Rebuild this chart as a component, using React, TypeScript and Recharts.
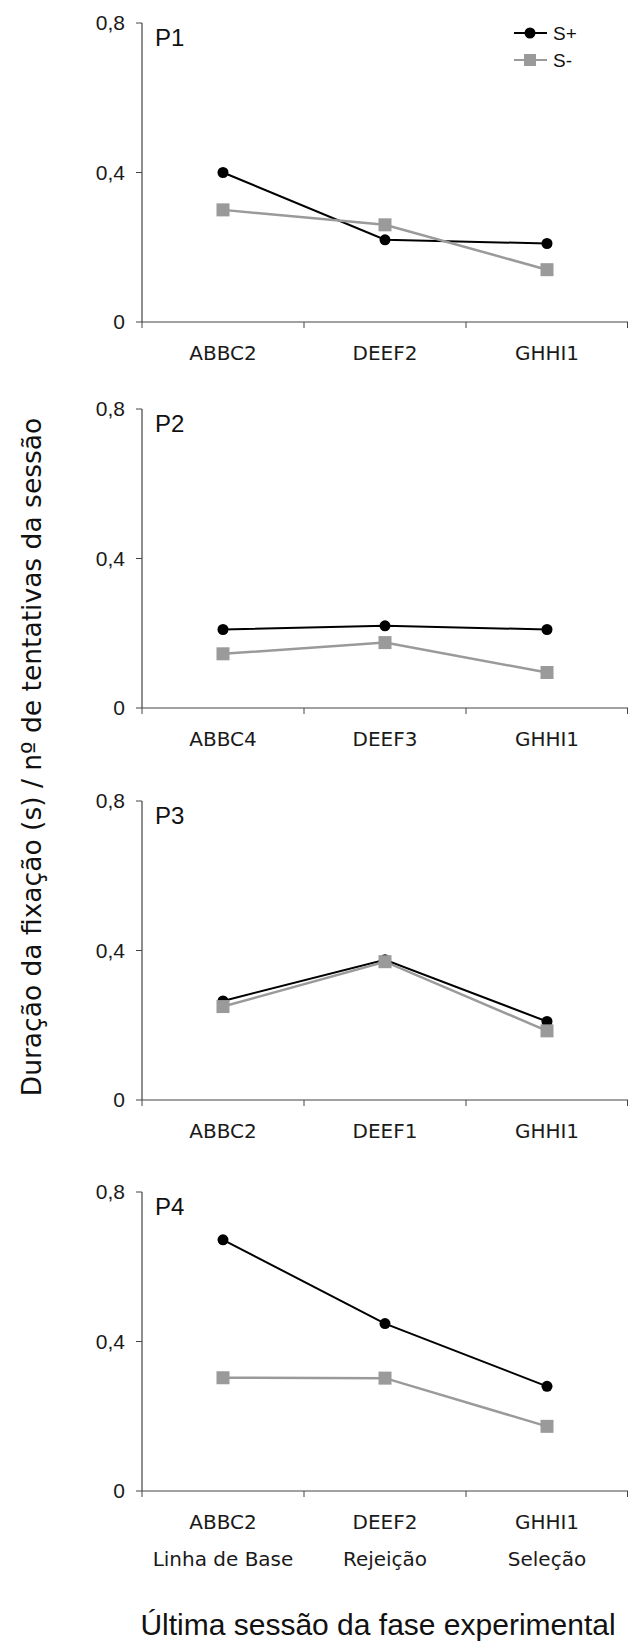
import React from 'react';
import { LineChart, Line, XAxis, YAxis, Legend } from 'recharts';

// ---------- data ----------
const p1Categories = ['ABBC2', 'DEEF2', 'GHHI1'];
const p1SPlus = [0.40, 0.22, 0.21];
const p1SMinus = [0.30, 0.26, 0.14];

const p2Categories = ['ABBC4', 'DEEF3', 'GHHI1'];
const p2SPlus = [0.21, 0.22, 0.21];
const p2SMinus = [0.145, 0.175, 0.095];

const p3Categories = ['ABBC2', 'DEEF1', 'GHHI1'];
const p3SPlus = [0.265, 0.375, 0.21];
const p3SMinus = [0.25, 0.37, 0.185];

const p4Categories = ['ABBC2', 'DEEF2', 'GHHI1'];
const p4SPlus = [0.672, 0.448, 0.28];
const p4SMinus = [0.303, 0.302, 0.173];

const phaseLabels = ['Linha de Base', 'Rejeição', 'Seleção'];
const panelNames = ['P1', 'P2', 'P3', 'P4'];
const yTicks = [0, 0.4, 0.8];
const seriesNames = ['S+', 'S-'];
const yTitle = 'Duração da fixação (s)  /  nº de tentativas da sessão';
const xTitle = 'Última sessão da fase experimental';

// ---------- styles ----------
const BLACK = '#000000';
const GREY = '#9a9a9a';
const AXIS = '#444444';
const ARIAL = '"Liberation Sans", Arial, Helvetica, sans-serif';
const VERDANA = '"DejaVu Sans", Verdana, sans-serif';

const build = (cats: string[], sp: number[], sm: number[]) =>
  cats.map((c, i) => ({ cat: c, sp: sp[i], sm: sm[i] }));

const panels = [
  build(p1Categories, p1SPlus, p1SMinus),
  build(p2Categories, p2SPlus, p2SMinus),
  build(p3Categories, p3SPlus, p3SMinus),
  build(p4Categories, p4SPlus, p4SMinus),
];

const PLOT_TOPS = [22.7, 409.3, 800.7, 1191.7];
const TOP_MARGIN = 20;
const PLOT_H = 299;

const makeTick = (phases?: string[]) => (props: any) => {
  const { x, y, payload, index, width, visibleTicksCount } = props;
  const off = payload && payload.offset ? payload.offset : width / (visibleTicksCount || 3) / 2;
  const last = index === (visibleTicksCount || 3) - 1;
  return (
    <g>
      <line x1={x - off} y1={y} x2={x - off} y2={y + 6} stroke={AXIS} strokeWidth={1} />
      {last && <line x1={x + off - 0.5} y1={y} x2={x + off - 0.5} y2={y + 6} stroke={AXIS} strokeWidth={1} />}
      <text x={x} y={y + 38} textAnchor="middle" fontFamily={VERDANA} fontSize={20} fill="#1a1a1a">
        {payload.value}
      </text>
      {phases && (
        <text x={x} y={y + 75} textAnchor="middle" fontFamily={VERDANA} fontSize={20} fill="#1a1a1a">
          {phases[index]}
        </text>
      )}
    </g>
  );
};

const squareDot = (props: any) => {
  const { cx, cy, index } = props;
  if (cx == null || cy == null) return <g key={`sq-${index}`} />;
  return <rect key={`sq-${index}`} x={cx - 6.5} y={cy - 6.5} width={13} height={13} fill={GREY} />;
};

const renderLegend = () => (
  <div style={{ fontFamily: ARIAL, fontSize: 19, color: '#111' }}>
    {seriesNames.map((n, i) => (
      <div key={n} style={{ display: 'flex', alignItems: 'center', height: 27 }}>
        <svg width={34} height={14} style={{ display: 'block' }}>
          <line x1={0} y1={7} x2={33} y2={7} stroke={i === 0 ? BLACK : GREY} strokeWidth={2} />
          {i === 0 ? (
            <circle cx={16} cy={7} r={5.5} fill={BLACK} />
          ) : (
            <rect x={10} y={1} width={12} height={12} fill={GREY} />
          )}
        </svg>
        <span style={{ marginLeft: 5, lineHeight: '27px' }}>{n}</span>
      </div>
    ))}
  </div>
);

const Panel = ({ data, idx }: { data: any[]; idx: number }) => {
  const isLast = idx === 3;
  const xh = isLast ? 100 : 60;
  const h = TOP_MARGIN + PLOT_H + xh;
  return (
    <div style={{ position: 'absolute', left: 0, top: PLOT_TOPS[idx] - TOP_MARGIN, width: 628, height: h }}>
      <LineChart width={628} height={h} data={data} margin={{ top: TOP_MARGIN, right: 0, bottom: 0, left: 0 }}>
        <XAxis
          dataKey="cat"
          type="category"
          scale="band"
          interval={0}
          height={xh}
          axisLine={{ stroke: AXIS, strokeWidth: 1.2 }}
          tickLine={false}
          tickSize={0}
          tickMargin={0}
          tick={makeTick(isLast ? phaseLabels : undefined)}
        />
        <YAxis
          width={142}
          domain={[0, 0.8]}
          ticks={yTicks}
          interval={0}
          axisLine={{ stroke: AXIS, strokeWidth: 1.2 }}
          tickLine={{ stroke: AXIS }}
          tickSize={6}
          tickMargin={11}
          tick={{ fontFamily: ARIAL, fontSize: 21, fill: '#1a1a1a' }}
          tickFormatter={(v: number) => String(v).replace('.', ',')}
        />
        {idx === 0 && (
          <Legend
            layout="vertical"
            align="center"
            verticalAlign="middle"
            content={renderLegend}
            wrapperStyle={{ top: 17, left: 514, width: 114, height: 54 }}
          />
        )}
        <Line
          dataKey="sp"
          name={seriesNames[0]}
          stroke={BLACK}
          strokeWidth={2}
          dot={{ r: 5.5, fill: BLACK, stroke: BLACK, strokeWidth: 0 }}
          isAnimationActive={false}
        />
        <Line
          dataKey="sm"
          name={seriesNames[1]}
          stroke={GREY}
          strokeWidth={2.5}
          dot={squareDot}
          isAnimationActive={false}
        />
      </LineChart>
    </div>
  );
};

export default function App() {
  return (
    <div style={{ position: 'absolute', left: 0, top: 0, width: 628, height: 1641, background: '#fff' }}>
      {panels.map((d, i) => (
        <Panel key={i} data={d} idx={i} />
      ))}
      <svg width={628} height={1641} style={{ position: 'absolute', left: 0, top: 0, pointerEvents: 'none' }}>
        {panelNames.map((n, i) => (
          <text key={n} x={155} y={PLOT_TOPS[i] + 23} fontFamily={ARIAL} fontSize={24} fill="#111">
            {n}
          </text>
        ))}
        <text
          transform="translate(41,757) rotate(-90)"
          textAnchor="middle"
          fontFamily={VERDANA}
          fontSize={26.5}
          fill="#111"
        >
          {yTitle}
        </text>
        <text x={378} y={1635} textAnchor="middle" fontFamily={ARIAL} fontSize={30} fill="#111">
          {xTitle}
        </text>
      </svg>
    </div>
  );
}
